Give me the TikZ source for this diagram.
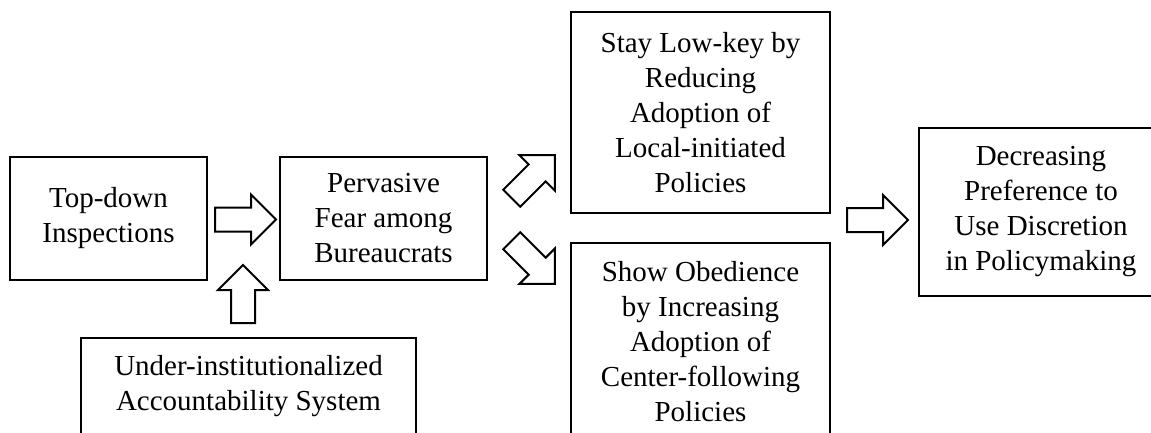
\documentclass[tikz,border=0pt]{standalone}
\usepackage{fontspec}
\setmainfont{Liberation Serif}
\usetikzlibrary{shapes.arrows}

\tikzset{
  box/.style={draw, line width=1.5pt, align=center, inner sep=0pt},
  fatarrow/.style={single arrow, draw, line width=1.5pt, inner xsep=0pt, inner ysep=8.25pt,
    minimum height=45.75pt, single arrow head extend=9.75pt, single arrow tip angle=90, anchor=tail},
}

\begin{document}
\begin{tikzpicture}[x=0.75pt,y=0.75pt,yscale=-1,xscale=1,font=\fontsize{21.75}{26.25}\selectfont]
\useasboundingbox (0,0) rectangle (1151,432);
\clip (0,0) rectangle (1151,432);

%Boxes
\node[box, minimum width=147.75pt, minimum height=92.25pt] (topdown) at (108.5,218.5) {Top-down\\Inspections};
\node[box, minimum width=155.25pt, minimum height=92.25pt] (fear) at (383.5,218.5) {Pervasive\\Fear among\\Bureaucrats};
\node[box, minimum width=251.25pt, minimum height=72.75pt] (under) at (248.5,386.5) {Under-institutionalized\\Accountability System};
\node[box, minimum width=194.25pt, minimum height=150.75pt] (lowkey) at (700.5,112.5) {Stay Low-key by\\Reducing\\Adoption of\\Local-initiated\\Policies};
\node[box, minimum width=194.25pt, minimum height=148.5pt] (obey) at (700.5,342) {Show Obedience\\by Increasing\\Adoption of\\Center-following\\Policies};
\node[box, minimum width=183pt, minimum height=126pt] (decr) at (1041,212) {Decreasing\\Preference to\\Use Discretion\\in Policymaking};

%Block arrows (placed by their tails)
\node[fatarrow] (toFear) at (214,219.5) {};
\node[fatarrow, minimum height=43.5pt, rotate=90] (fromUnder) at (243,324) {};
\node[fatarrow, rotate=45] (toLowkey) at (511,199) {};
\node[fatarrow, rotate=-45] (toObey) at (511,240) {};
\node[fatarrow] (toDecr) at (846,220) {};

\end{tikzpicture}
\end{document}
